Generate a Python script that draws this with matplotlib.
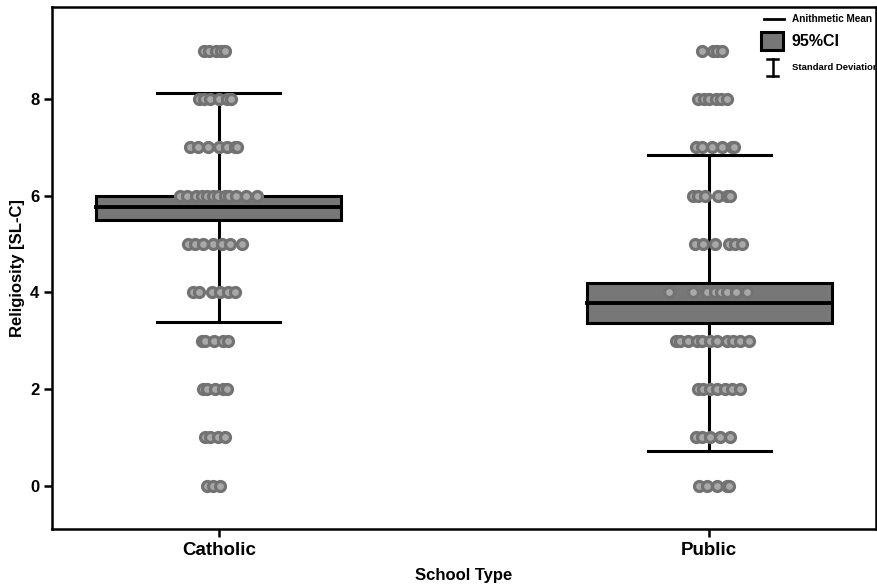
import matplotlib
matplotlib.use("Agg")
import matplotlib.pyplot as plt
from matplotlib.patches import Rectangle

plt.rcParams["font.family"] = ["Liberation Sans", "DejaVu Sans"]

# Summary statistics per school type
school_types = ["Catholic", "Public"]
means = [5.76, 3.78]
ci_low = [5.50, 3.36]
ci_high = [6.00, 4.19]
sd_low = [3.38, 0.71]
sd_high = [8.12, 6.83]

# Individual responses: score level -> horizontal jitter (category units)
catholic_points = {
    9: [-0.031, -0.020, -0.006, 0.004, 0.012],
    8: [-0.041, -0.031, -0.018, 0.000, 0.016, 0.025],
    7: [-0.059, -0.043, -0.022, 0.000, 0.016, 0.033, 0.037],
    6: [-0.080, -0.065, -0.047, -0.035, -0.024, -0.012, -0.002, 0.012, 0.020, 0.035, 0.055, 0.078],
    5: [-0.063, -0.049, -0.033, -0.012, 0.006, 0.022, 0.047],
    4: [-0.053, -0.041, -0.014, 0.002, 0.018, 0.033],
    3: [-0.035, -0.027, -0.010, 0.008, 0.018],
    2: [-0.033, -0.024, -0.008, 0.008, 0.016],
    1: [-0.029, -0.018, -0.002, 0.012],
    0: [-0.024, -0.012, 0.002],
}
public_points = {
    9: [-0.014, 0.008, 0.016, 0.027],
    8: [-0.022, -0.010, 0.000, 0.014, 0.024, 0.037],
    7: [-0.027, -0.014, 0.006, 0.027, 0.047, 0.051],
    6: [-0.033, -0.022, -0.008, 0.018, 0.037, 0.043],
    5: [-0.029, -0.012, 0.012, 0.041, 0.053, 0.067],
    4: [-0.082, -0.033, -0.004, 0.012, 0.024, 0.037, 0.055, 0.078],
    3: [-0.067, -0.059, -0.043, -0.024, -0.014, 0.002, 0.016, 0.037, 0.049, 0.063, 0.082],
    2: [-0.022, -0.012, 0.002, 0.016, 0.033, 0.047, 0.063],
    1: [-0.027, -0.014, 0.002, 0.022, 0.043],
    0: [-0.020, -0.004, 0.016, 0.037, 0.041],
}
all_points = [catholic_points, public_points]

box_half = 0.25
cap_half = 0.125

fig = plt.figure(figsize=(8.78, 5.85), dpi=100)
ax = fig.add_axes([0.0592, 0.0957, 0.9385, 0.8923])

for i in range(len(school_types)):
    # SD whisker
    ax.plot([i, i], [sd_low[i], sd_high[i]], color="black", lw=2.2, zorder=1)
    ax.plot([i - cap_half, i + cap_half], [sd_high[i], sd_high[i]], color="black", lw=2.2, zorder=1)
    ax.plot([i - cap_half, i + cap_half], [sd_low[i], sd_low[i]], color="black", lw=2.2, zorder=1)
    # 95% CI box
    ax.add_patch(Rectangle((i - box_half, ci_low[i]), 2 * box_half, ci_high[i] - ci_low[i],
                           facecolor="#777777", edgecolor="black", lw=2.2, zorder=2))
    # mean line
    ax.plot([i - box_half, i + box_half], [means[i], means[i]], color="black", lw=2.8, zorder=3)
    # individual points
    for level, offsets in all_points[i].items():
        xs = [i + o for o in offsets]
        ax.plot(xs, [level] * len(xs), "o", ms=7.2, mfc="#a8a8a8", mec="#727272",
                mew=2.3, ls="none", zorder=4)

ax.set_xlim(-0.34, 1.34)
ax.set_ylim(-0.9, 9.9)
ax.set_xticks(range(len(school_types)))
ax.set_xticklabels(school_types, fontsize=13.5, fontweight="bold")
ax.set_yticks([0, 2, 4, 6, 8])
ax.set_yticklabels(["0", "2", "4", "6", "8"], fontsize=12, fontweight="bold")
ax.tick_params(direction="out", length=6, width=1.8, pad=3)
for sp in ax.spines.values():
    sp.set_linewidth(1.8)

ax.set_xlabel("School Type", fontsize=12, fontweight="bold", labelpad=7)
ax.set_ylabel("Religiosity [SL-C]", fontsize=12, fontweight="bold", labelpad=4)

# hand-made legend in the upper right corner
tr = ax.transAxes
ax.plot([0.8635, 0.8885], [0.9765, 0.9765], color="black", lw=2, transform=tr, clip_on=False)
ax.text(0.8975, 0.9765, "Anithmetic Mean", transform=tr, fontsize=7.2, fontweight="bold", va="center")
ax.add_patch(Rectangle((0.861, 0.917), 0.0265, 0.0345, transform=tr, facecolor="#777777",
                       edgecolor="black", lw=2.2, zorder=5))
ax.text(0.8975, 0.934, "95%CI", transform=tr, fontsize=11.5, fontweight="bold", va="center")
ax.plot([0.8745, 0.8745], [0.867, 0.901], color="black", lw=1.8, transform=tr)
ax.plot([0.868, 0.881], [0.901, 0.901], color="black", lw=1.8, transform=tr)
ax.plot([0.868, 0.881], [0.867, 0.867], color="black", lw=1.8, transform=tr)
ax.text(0.8975, 0.885, "Standard Deviation", transform=tr, fontsize=6.8, fontweight="bold", va="center")

fig.savefig("out.png", dpi=100)
